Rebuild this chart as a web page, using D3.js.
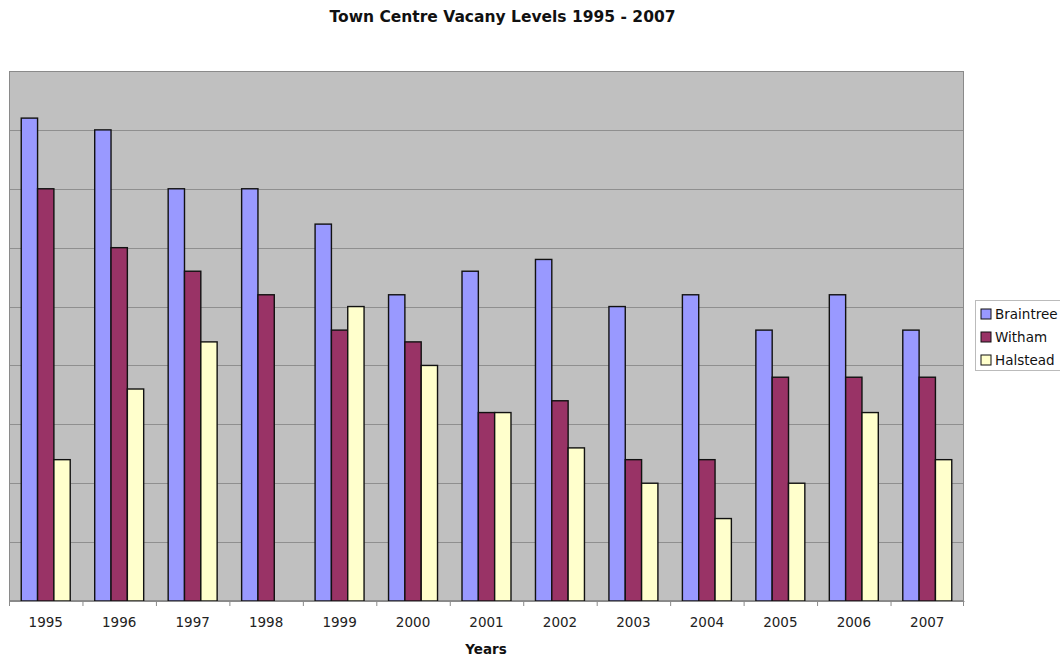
<!DOCTYPE html>
<html>
<head>
<meta charset="utf-8">
<script src="https://cdn.jsdelivr.net/npm/d3@7"></script>
<style>
  html, body { margin: 0; padding: 0; background: #fff; }
  svg { display: block; font-family: "DejaVu Sans", sans-serif; }
</style>
</head>
<body>
<svg id="chart" width="1060" height="657"></svg>
<script>
// Town centre vacancy levels by year
const years = ["1995","1996","1997","1998","1999","2000","2001","2002","2003","2004","2005","2006","2007"];
const seriesNames = ["Braintree", "Witham", "Halstead"];
const braintree = [41, 40, 35, 35, 32, 26, 28, 29, 25, 26, 23, 26, 23];
const witham    = [35, 30, 28, 26, 23, 22, 16, 17, 12, 12, 19, 19, 19];
const halstead  = [12, 18, 22, 0, 25, 20, 16, 13, 10, 7, 10, 16, 12];
const yTicks = [0, 5, 10, 15, 20, 25, 30, 35, 40, 45];
const colours = ["#9999FF", "#993366", "#FFFFCC"];

const seriesValues = [braintree, witham, halstead];

const svg = d3.select("#chart");
const plot = { left: 9, right: 964, top: 71, bottom: 601 };

const x = d3.scaleBand().domain(years).range([plot.left, plot.right]).paddingInner(0).paddingOuter(0);
const inner = d3.scaleBand().domain(seriesNames)
  .range([x.bandwidth() / 6, x.bandwidth() * 5 / 6]).padding(0);
const y = d3.scaleLinear().domain([0, 45]).range([plot.bottom, plot.top]);

// plot background
svg.append("rect")
  .attr("x", plot.left).attr("y", plot.top)
  .attr("width", plot.right - plot.left).attr("height", plot.bottom - plot.top)
  .attr("fill", "#C0C0C0");

// horizontal gridlines
svg.append("g")
  .selectAll("line")
  .data(yTicks.slice(1, -1))
  .join("line")
  .attr("x1", plot.left).attr("x2", plot.right)
  .attr("y1", d => Math.round(y(d)) + 0.5).attr("y2", d => Math.round(y(d)) + 0.5)
  .attr("stroke", "#8f8f8f").attr("stroke-width", 1);

// plot frame
svg.append("rect")
  .attr("x", plot.left + 0.5).attr("y", plot.top + 0.5)
  .attr("width", plot.right - plot.left - 1).attr("height", plot.bottom - plot.top - 1)
  .attr("fill", "none").attr("stroke", "#8a8a8a").attr("stroke-width", 1);

// bars
const groups = svg.append("g")
  .selectAll("g")
  .data(years)
  .join("g")
  .attr("transform", d => `translate(${x(d)},0)`);

groups.selectAll("rect")
  .data((yr, i) => seriesNames.map((s, k) => ({ s, k, v: seriesValues[k][i] })).filter(d => d.v > 0))
  .join("rect")
  .attr("x", d => inner(d.s))
  .attr("width", inner.bandwidth())
  .attr("y", d => y(d.v))
  .attr("height", d => y(0) - y(d.v))
  .attr("fill", d => colours[d.k])
  .attr("stroke", "#111")
  .attr("stroke-width", 1.4);

// x axis
const xAxis = svg.append("g")
  .attr("transform", `translate(0,${plot.bottom})`)
  .call(d3.axisBottom(x).tickSize(0).tickPadding(16));
xAxis.select(".domain").attr("stroke", "#8a8a8a");
xAxis.selectAll("text").attr("font-size", 13.5).attr("fill", "#222")
  .attr("font-family", "DejaVu Sans, sans-serif");

// tick marks between categories
svg.append("g")
  .selectAll("line")
  .data(years.concat(["end"]))
  .join("line")
  .attr("x1", (d, i) => i < years.length ? x(d) + 0.5 : plot.right - 0.5)
  .attr("x2", (d, i) => i < years.length ? x(d) + 0.5 : plot.right - 0.5)
  .attr("y1", plot.bottom).attr("y2", plot.bottom + 5)
  .attr("stroke", "#8a8a8a");

// title
svg.append("text")
  .attr("x", 502.5).attr("y", 22)
  .attr("text-anchor", "middle")
  .attr("font-size", 15.5).attr("font-weight", "bold").attr("fill", "#111")
  .text("Town Centre Vacany Levels 1995 - 2007");

// axis title
svg.append("text")
  .attr("x", 486).attr("y", 654)
  .attr("text-anchor", "middle")
  .attr("font-size", 13.5).attr("font-weight", "bold").attr("fill", "#111")
  .text("Years");

// legend
const legend = svg.append("g").attr("transform", "translate(975,300)");
legend.append("rect")
  .attr("x", 0.5).attr("y", 0.5).attr("width", 100).attr("height", 70)
  .attr("fill", "#fff").attr("stroke", "#bbb");
const items = legend.selectAll("g.item")
  .data(seriesNames)
  .join("g")
  .attr("class", "item")
  .attr("transform", (d, i) => `translate(0,${14 + i * 23})`);
items.append("rect")
  .attr("x", 6).attr("y", -5).attr("width", 10).attr("height", 10)
  .attr("fill", (d, i) => colours[i]).attr("stroke", "#111").attr("stroke-width", 1);
items.append("text")
  .attr("x", 20).attr("y", 5)
  .attr("font-size", 13.5).attr("fill", "#111")
  .text(d => d);
</script>
</body>
</html>
